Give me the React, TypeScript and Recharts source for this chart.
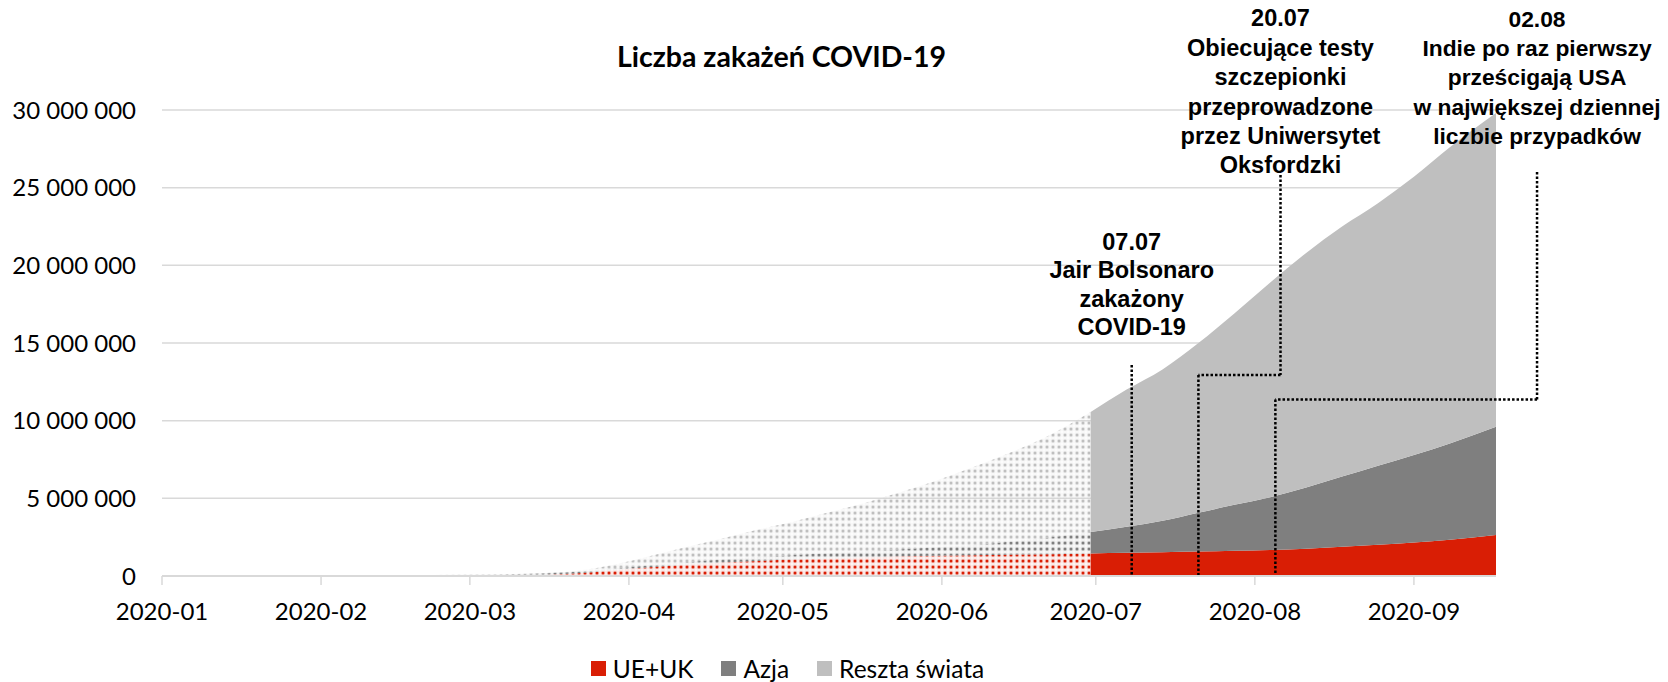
import React from 'react';
import { AreaChart, Area, XAxis, YAxis, CartesianGrid, ReferenceLine } from 'recharts';

// ---------- data (values in millions of cumulative cases) ----------
const dates = [
  '2020-01-01', '2020-01-22', '2020-02-01', '2020-02-15', '2020-03-01', '2020-03-08',
  '2020-03-15', '2020-03-22', '2020-03-29', '2020-04-05', '2020-04-12', '2020-04-19',
  '2020-04-26', '2020-05-03', '2020-05-10', '2020-05-17', '2020-05-24', '2020-05-31',
  '2020-06-07', '2020-06-14', '2020-06-21', '2020-06-30', '2020-07-07', '2020-07-14',
  '2020-07-21', '2020-07-28', '2020-08-04', '2020-08-11', '2020-08-18', '2020-08-25',
  '2020-09-01', '2020-09-08', '2020-09-17',
];
const euUk = [
  0, 0, 0, 0, 0.002, 0.012, 0.055, 0.17, 0.37, 0.57, 0.73, 0.86, 0.97, 1.07, 1.13, 1.19,
  1.25, 1.3, 1.34, 1.37, 1.4, 1.45, 1.49, 1.53, 1.57, 1.62, 1.67, 1.76, 1.89, 2.01, 2.15,
  2.33, 2.64,
];
const asia = [
  0, 0.0006, 0.012, 0.068, 0.083, 0.092, 0.1, 0.11, 0.11, 0.13, 0.16, 0.2, 0.25, 0.29, 0.34,
  0.4, 0.47, 0.55, 0.66, 0.83, 1.04, 1.39, 1.68, 2.02, 2.5, 2.96, 3.4, 3.94, 4.51, 5.09, 5.64,
  6.2, 6.97,
];
const restOfWorld = [
  0, 0, 0, 0.001, 0.003, 0.006, 0.015, 0.05, 0.24, 0.57, 0.96, 1.34, 1.75, 2.14, 2.63, 3.11,
  3.68, 4.3, 5.0, 5.7, 6.46, 7.71, 8.83, 9.75, 10.93, 12.32, 13.83, 15.1, 16.1, 16.9, 17.91,
  19.07, 20.19,
];
const solidFrom = '2020-06-30';

const seriesNames = ['UE+UK', 'Azja', 'Reszta świata'];
const seriesColors = ['#D91E05', '#7F7F7F', '#BFBFBF'];

const monthTickDates = [
  '2020-01-01', '2020-02-01', '2020-03-01', '2020-04-01', '2020-05-01',
  '2020-06-01', '2020-07-01', '2020-08-01', '2020-09-01',
];
const monthTickLabels = [
  '2020-01', '2020-02', '2020-03', '2020-04', '2020-05', '2020-06', '2020-07', '2020-08', '2020-09',
];
const yTicks = [0, 5, 10, 15, 20, 25, 30];

const title = 'Liczba zakażeń COVID-19';

const annotations = [
  {
    lines: ['07.07', 'Jair Bolsonaro', 'zakażony', 'COVID-19'],
    path: [['2020-07-08', 13.58], ['2020-07-08', 0]],
  },
  {
    lines: ['20.07', 'Obiecujące testy', 'szczepionki', 'przeprowadzone', 'przez Uniwersytet', 'Oksfordzki'],
    path: [['2020-08-06', 25.82], ['2020-08-06', 12.94], ['2020-07-21', 12.94], ['2020-07-21', 0]],
  },
  {
    lines: ['02.08', 'Indie po raz pierwszy', 'prześcigają USA', 'w największej dziennej', 'liczbie przypadków'],
    path: [['2020-09-25', 26.01], ['2020-09-25', 11.36], ['2020-08-05', 11.36], ['2020-08-05', 0]],
  },
];

// ---------- styles ----------
const annStyles = [
  { fontSize: 23.5, lineHeight: 28.3, gap: 30 },
  { fontSize: 23.5, lineHeight: 29.4, gap: 1.5 },
  { fontSize: 22.8, lineHeight: 29.4, gap: 27.8 },
];

const dayOf = (d: string) => {
  const [y, m, dd] = d.split('-').map(Number);
  return Math.round((Date.UTC(y, m - 1, dd) - Date.UTC(2020, 0, 1)) / 86400000);
};

const splitDay = dayOf(solidFrom);
const table = dates.map((d, i) => {
  const day = dayOf(d);
  const e = euUk[i];
  const ea = e + asia[i];
  const t = ea + restOfWorld[i];
  const pre = day <= splitDay;
  const post = day >= splitDay;
  return {
    day,
    preE: pre ? [0, e] : null,
    preA: pre ? [e, ea] : null,
    preR: pre ? [ea, t] : null,
    postE: post ? [0, e] : null,
    postA: post ? [e, ea] : null,
    postR: post ? [ea, t] : null,
  };
});

const tickDays = monthTickDates.map(dayOf);
const lastDay = dayOf(dates[dates.length - 1]);

const fmtY = (v: number) => (v === 0 ? '0' : `${v} 000 000`);

const patternIds = ['dotE', 'dotA', 'dotR'];
const keys = ['E', 'A', 'R'];

function makeAnnLabel(idx: number) {
  const st = annStyles[idx];
  const lines = annotations[idx].lines;
  return (props: any) => {
    const vb = props && props.viewBox;
    if (!vb) return null;
    const cx = vb.x;
    const lastBase = vb.y - st.gap;
    const firstBase = lastBase - (lines.length - 1) * st.lineHeight;
    return (
      <text
        textAnchor="middle"
        fontFamily="'Liberation Sans', Arial, sans-serif"
        fontWeight="bold"
        fontSize={st.fontSize}
        fill="#000"
      >
        {lines.map((ln, k) => (
          <tspan key={k} x={cx} y={firstBase + k * st.lineHeight}>
            {ln}
          </tspan>
        ))}
      </text>
    );
  };
}

export default function App() {
  return (
    <div
      style={{
        position: 'absolute',
        left: 0,
        top: 0,
        width: 1668,
        height: 682,
        background: '#fff',
        overflow: 'hidden',
      }}
    >
      <div
        style={{
          position: 'absolute',
          left: 0,
          top: 39,
          width: 1563,
          textAlign: 'center',
          fontFamily: 'Lato, sans-serif',
          fontWeight: 700,
          fontSize: 28.5,
          color: '#000',
          whiteSpace: 'nowrap',
        }}
      >
        {title}
      </div>
      <AreaChart
        width={1668}
        height={682}
        data={table}
        margin={{ top: 110, right: 172, bottom: 46, left: 0 }}
        style={{ position: 'absolute', left: 0, top: 0 }}
      >
        <defs>
          {seriesColors.map((c, i) => (
            <pattern
              key={patternIds[i]}
              id={patternIds[i]}
              width={6}
              height={6}
              patternUnits="userSpaceOnUse"
            >
              <rect x={0.5} y={0.5} width={5} height={5} fill={c} fillOpacity={0.2} />
              <circle cx={3} cy={3} r={1.5} fill={c} />
            </pattern>
          ))}
        </defs>
        <CartesianGrid vertical={false} stroke="#D9D9D9" strokeWidth={1.5} />
        <XAxis
          dataKey="day"
          type="number"
          domain={[0, lastDay]}
          ticks={tickDays}
          interval={0}
          tickFormatter={(v: number) => monthTickLabels[tickDays.indexOf(v)] ?? ''}
          axisLine={{ stroke: '#D9D9D9', strokeWidth: 2 }}
          tickLine={{ stroke: '#D9D9D9', strokeWidth: 1.5 }}
          tickSize={9}
          tickMargin={18}
          height={60}
          tick={{ fontSize: 24, fill: '#000', fontFamily: 'Lato, sans-serif' }}
        />
        <YAxis
          type="number"
          domain={[0, 30]}
          ticks={yTicks}
          interval={0}
          width={162}
          axisLine={false}
          tickLine={false}
          tickSize={0}
          tickMargin={26}
          tickFormatter={fmtY}
          tick={{ fontSize: 24, fill: '#000', fontFamily: 'Lato, sans-serif' }}
        />
        {keys.map((k, i) => (
          <Area
            key={'pre' + k}
            dataKey={'pre' + k}
            type="monotoneX"
            stroke="none"
            fill={`url(#${patternIds[i]})`}
            fillOpacity={1}
            isAnimationActive={false}
            dot={false}
            activeDot={false}
          />
        ))}
        {keys.map((k, i) => (
          <Area
            key={'post' + k}
            dataKey={'post' + k}
            type="monotoneX"
            stroke="none"
            fill={seriesColors[i]}
            fillOpacity={1}
            isAnimationActive={false}
            dot={false}
            activeDot={false}
          />
        ))}
        {annotations.map((a, ai) =>
          a.path.slice(0, -1).map((p, si) => {
            const q = a.path[si + 1];
            return (
              <ReferenceLine
                key={`ann-${ai}-${si}`}
                segment={[
                  { x: dayOf(p[0] as string), y: p[1] as number },
                  { x: dayOf(q[0] as string), y: q[1] as number },
                ]}
                ifOverflow="visible"
                stroke="#000"
                strokeWidth={2.5}
                strokeDasharray="2.5 2"
                label={si === 0 ? makeAnnLabel(ai) : undefined}
              />
            );
          })
        )}
      </AreaChart>
      <div
        style={{
          position: 'absolute',
          left: 0,
          top: 654,
          width: 1575,
          display: 'flex',
          justifyContent: 'center',
          alignItems: 'center',
          fontFamily: 'Lato, sans-serif',
          fontSize: 24.5,
          color: '#000',
          whiteSpace: 'nowrap',
        }}
      >
        {seriesNames.map((n, i) => (
          <div
            key={n}
            style={{ display: 'flex', alignItems: 'center', marginRight: i < seriesNames.length - 1 ? 28 : 0 }}
          >
            <span
              style={{ display: 'inline-block', width: 15, height: 15, background: seriesColors[i], marginRight: 7 }}
            />
            <span>{n}</span>
          </div>
        ))}
      </div>
    </div>
  );
}
